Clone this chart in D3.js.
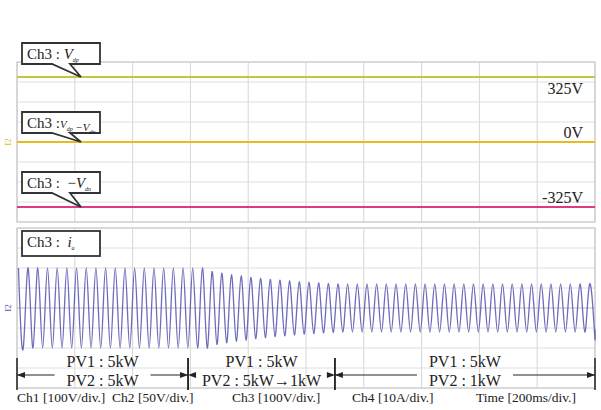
<!DOCTYPE html>
<html>
<head>
<meta charset="utf-8">
<script src="https://cdn.jsdelivr.net/npm/d3@7"></script>
<style>
  body { margin: 0; background: #fff; }
  svg text { font-family: "Liberation Serif", "Times New Roman", serif; fill: #222; }
</style>
</head>
<body>
<div id="scope"></div>
<script>
// --scope capture: DC link voltages (top) and phase current (bottom)

// time axis, ms (10 div x 200 ms)
var timeDomain = [0, 2000];
var timeDivs = 10;

// DC traces, volts
var dcLevels = [
  { name: 'vdp', v: 325, color: '#c9c43a', label: '325V' },
  { name: 'diff', v: 0, color: '#e6bd1c', label: '0V' },
  { name: 'vdn', v: -325, color: '#de3a82', label: '-325V' }
];

// current trace: one amplitude (A) per cycle
var cyclePeriod = 33.5;   // ms between displayed peaks
var firstPeak = 5;        // ms
var cycleAmp = [
  20, 20, 20, 20, 20, 20, 20, 20, 20, 20,
  20, 20, 20, 20, 20, 20, 20, 20, 20, 20,
  18.2, 17.4, 16.6, 16, 15.3, 14.8, 14.3, 13.9, 13.5, 13.1,
  12.8, 12.5, 12.3, 12.1, 12, 12, 12, 12, 12, 12,
  12, 12, 12, 12, 12, 12, 12, 12, 12, 12,
  12, 12, 12, 12, 12, 12, 12, 12, 12, 12
];

// operating intervals, ms
var stages = [
  { t0: 0, t1: 592, pv1: 'PV1 : 5kW', pv2: 'PV2 : 5kW' },
  { t0: 592, t1: 1100, pv1: 'PV1 : 5kW', pv2: 'PV2 : 5kW\u21921kW' },
  { t0: 1100, t1: 2000, pv1: 'PV1 : 5kW', pv2: 'PV2 : 1kW' }
];

var scaleNotes = ['Ch1 [100V/div.]', 'Ch2 [50V/div.]', 'Ch3 [100V/div.]', 'Ch4 [10A/div.]', 'Time [200ms/div.]'];
var noteX = [17, 112, 232, 352, 476];

var svg = d3.select('#scope').append('svg')
  .attr('width', 601)
  .attr('height', 410);

var x = d3.scaleLinear().domain(timeDomain).range([17, 595]);
var yTop = d3.scaleLinear().domain([-400, 400]).range([222, 62]);
var yBot = d3.scaleLinear().domain([-40, 40]).range([388, 228]);

function grid(g, y, lo, hi, step) {
  var xt = d3.range(0, timeDivs + 1).map(function(i) { return timeDomain[0] + i * (timeDomain[1] - timeDomain[0]) / timeDivs; });
  var yt = d3.range(lo, hi + step / 2, step);
  g.selectAll('.vl').data(xt).enter().append('line')
    .attr('x1', function(d) { return x(d); })
    .attr('x2', function(d) { return x(d); })
    .attr('y1', y(hi)).attr('y2', y(lo))
    .attr('stroke', '#d6d6d6');
  g.selectAll('.hl').data(yt).enter().append('line')
    .attr('x1', x(timeDomain[0])).attr('x2', x(timeDomain[1]))
    .attr('y1', function(d) { return y(d); })
    .attr('y2', function(d) { return y(d); })
    .attr('stroke', function(d) { return d === 0 ? '#b8b8b8' : '#dedede'; });
  g.append('rect')
    .attr('x', x(timeDomain[0])).attr('y', y(hi))
    .attr('width', x(timeDomain[1]) - x(timeDomain[0]))
    .attr('height', y(lo) - y(hi))
    .attr('fill', 'none')
    .attr('stroke', '#c4c4c4');
}

grid(svg.append('g'), yTop, -400, 400, 100);
grid(svg.append('g'), yBot, -40, 40, 10);

// DC traces
var line = d3.line()
  .x(function(d) { return x(d.t); })
  .y(function(d) { return yTop(d.v); });

svg.append('g').selectAll('path')
  .data(dcLevels)
  .enter()
  .append('path')
  .attr('d', function(d) { return line([{ t: timeDomain[0], v: d.v }, { t: timeDomain[1], v: d.v }]); })
  .attr('fill', 'none')
  .attr('stroke', function(d) { return d.color; })
  .attr('stroke-width', 2.2);

svg.append('g').selectAll('text')
  .data(dcLevels)
  .enter()
  .append('text')
  .attr('x', 583)
  .attr('y', function(d) { return yTop(d.v) + (d.v > 0 ? 17 : -4); })
  .attr('text-anchor', 'end')
  .style('font-size', '16px')
  .text(function(d) { return d.label; });

// current trace through the peaks
var peaks = [];
cycleAmp.forEach(function(a, k) {
  var t = firstPeak + k * cyclePeriod;
  peaks.push({ t: t, i: a });
  peaks.push({ t: t + cyclePeriod / 2, i: -a });
});
peaks.push({ t: timeDomain[1], i: -cycleAmp[cycleAmp.length - 1] * 0.9 });

var iLine = d3.line()
  .x(function(d) { return x(d.t); })
  .y(function(d) { return yBot(d.i); })
  .curve(d3.curveNatural);

svg.append('path')
  .attr('d', iLine(peaks))
  .attr('fill', 'none')
  .attr('stroke', '#5c5cb6')
  .attr('stroke-width', 1.3)
  .attr('stroke-opacity', 0.9);

// channel ground markers
[{ y: yTop(0), c: '#e2be1e' }, { y: yBot(0), c: '#5656b2' }].forEach(function(m) {
  svg.append('text')
    .attr('transform', 'translate(11,' + m.y + ') rotate(-90)')
    .attr('text-anchor', 'middle')
    .style('font-size', '9px')
    .style('fill', m.c)
    .text('I2');
});

// callout boxes
var callouts = [
  { y: 43, tipY: yTop(325), main: 'Ch3 : ', parts: [['V', 'dp']] },
  { y: 112, tipY: yTop(0), main: 'Ch3 :', parts: [['V', 'dp'], ['\u2212V', 'dn']] },
  { y: 172, tipY: yTop(-325), main: 'Ch3 :  \u2212', parts: [['V', 'dn']] },
  { y: 231, tipY: null, main: 'Ch3 :  ', parts: [['i', 'a']] }
];

callouts.forEach(function(c) {
  var g = svg.append('g');
  var bx = 22, bw = 78, bh = 21;
  if (c.tipY !== null) {
    g.append('path')
      .attr('d', 'M' + bx + ',' + c.y + 'H' + (bx + bw) + 'V' + (c.y + bh) + 'H70L81,' + c.tipY + 'L52,' + (c.y + bh) + 'H' + bx + 'Z')
      .attr('fill', '#fff')
      .attr('stroke', '#333')
      .attr('stroke-width', 1.8);
  } else {
    g.append('rect')
      .attr('x', bx).attr('y', c.y).attr('width', bw).attr('height', bh + 4)
      .attr('fill', '#fff')
      .attr('stroke', '#333')
      .attr('stroke-width', 1.8);
  }
  var t = g.append('text')
    .attr('x', bx + 5)
    .attr('y', c.y + 16)
    .style('font-size', '15px')
    .attr('xml:space', 'preserve');
  t.append('tspan').text(c.main);
  var big = c.parts.length > 1 ? '11px' : '15px';
  c.parts.forEach(function(p, i) {
    t.append('tspan').style('font-style', 'italic').style('font-size', big).text((i > 0 ? ' ' : '') + p[0]);
    t.append('tspan').style('font-style', 'italic').style('font-size', '6px').attr('dy', 3).text(p[1]);
    t.append('tspan').style('font-size', big).attr('dy', -3).text('');
  });
});

// stage annotations
var ann = svg.append('g');
stages.forEach(function(s, i) {
  var x0 = x(s.t0), x1 = x(s.t1), xm = (x0 + x1) / 2;
  ann.append('text').attr('x', xm).attr('y', 367).attr('text-anchor', 'middle').style('font-size', '16px').text(s.pv1);
  var t2 = ann.append('text').attr('x', xm).attr('y', 386).attr('text-anchor', 'middle').style('font-size', '16px').text(s.pv2);
  [x0, x1].forEach(function(xx) {
    ann.append('line').attr('x1', xx).attr('x2', xx).attr('y1', 358).attr('y2', 390)
      .attr('stroke', '#222').attr('stroke-width', 1.5);
  });
  var half = t2.node().getComputedTextLength() / 2 + 12;
  if (i !== 1) {
    ann.append('line').attr('x1', x0).attr('x2', xm - half).attr('y1', 375).attr('y2', 375).attr('stroke', '#222').attr('stroke-width', 1.2);
    ann.append('line').attr('x1', xm + half).attr('x2', x1).attr('y1', 375).attr('y2', 375).attr('stroke', '#222').attr('stroke-width', 1.2);
  }
  ann.append('path').attr('d', 'M' + x0 + ',375l8,-3v6z').attr('fill', '#222');
  ann.append('path').attr('d', 'M' + x1 + ',375l-8,-3v6z').attr('fill', '#222');
});

svg.append('g').selectAll('text')
  .data(scaleNotes)
  .enter()
  .append('text')
  .attr('x', function(d, i) { return noteX[i]; })
  .attr('y', 402)
  .style('font-size', '13.5px')
  .text(function(d) { return d; });
</script>
</body>
</html>
